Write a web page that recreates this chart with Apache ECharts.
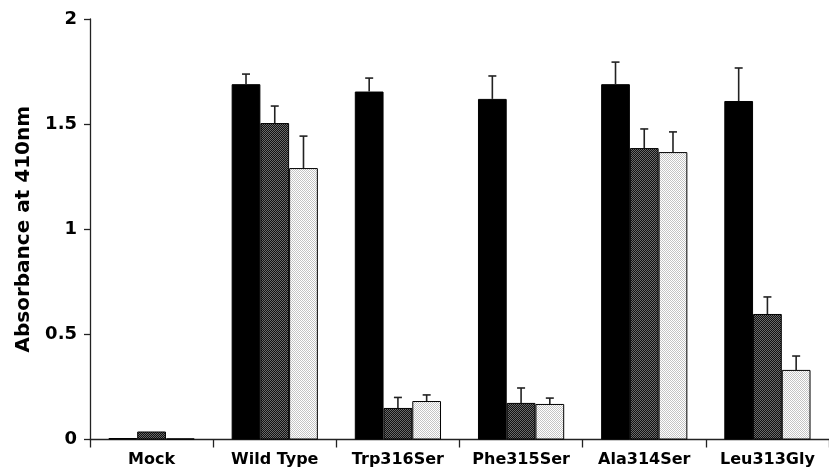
<!DOCTYPE html>
<html>
<head>
<meta charset="utf-8">
<script src="https://cdn.jsdelivr.net/npm/echarts@6/dist/echarts.min.js"></script>
<style>
html,body{margin:0;padding:0;background:#fff;}
#chart{width:829px;height:470px;}
</style>
</head>
<body>
<div id="chart"></div>
<script>
// ---- data ----
var categories = ['Mock', 'Wild Type', 'Trp316Ser', 'Phe315Ser', 'Ala314Ser', 'Leu313Gly'];
var seriesA = [0.007, 1.69, 1.655, 1.62, 1.69, 1.61];   // black
var seriesB = [0.038, 1.505, 0.15, 0.174, 1.386, 0.597]; // dark pattern
var seriesC = [0.005, 1.291, 0.183, 0.169, 1.367, 0.331]; // light pattern
var errA = [null, 1.738, 1.719, 1.729, 1.795, 1.767];   // error bar tops
var errB = [null, 1.586, 0.20, 0.245, 1.477, 0.678];
var errC = [null, 1.443, 0.212, 0.197, 1.463, 0.397];
var yTicks = [0, 0.5, 1, 1.5, 2];

// ---- patterns ----
function makePattern(c1, c2) {
  var cv = document.createElement('canvas');
  cv.width = 2; cv.height = 2;
  var ctx = cv.getContext('2d');
  ctx.fillStyle = c1; ctx.fillRect(0, 0, 2, 2);
  ctx.fillStyle = c2; ctx.fillRect(0, 0, 1, 1); ctx.fillRect(1, 1, 1, 1);
  return cv;
}
var darkPat = { image: makePattern('#111111', '#6a6a6a'), repeat: 'repeat' };
var lightPat = { image: makePattern('#ffffff', '#c4c4c4'), repeat: 'repeat' };

var FONT = 'DejaVu Sans';

function errData(tops, vals) {
  var out = [];
  for (var i = 0; i < tops.length; i++) {
    if (tops[i] != null) out.push([i, vals[i], tops[i]]);
  }
  return out;
}

function errSeries(tops, vals, offset) {
  return {
    type: 'custom',
    z: 5,
    silent: true,
    data: errData(tops, vals),
    renderItem: function (params, api) {
      var band = api.size([1, 0])[0];
      var bw = band * 0.7 / 3;
      var top = api.coord([api.value(0), api.value(2)]);
      var base = api.coord([api.value(0), api.value(1)]);
      var x = top[0] + offset * bw;
      var style = { stroke: '#222', lineWidth: 1.6 };
      return {
        type: 'group',
        children: [
          { type: 'line', shape: { x1: x, y1: base[1], x2: x, y2: top[1] }, style: style },
          { type: 'line', shape: { x1: x - 4, y1: top[1], x2: x + 4, y2: top[1] }, style: style }
        ]
      };
    }
  };
}

var barStyle = { borderColor: '#000', borderWidth: 1 };

var chart = echarts.init(document.getElementById('chart'), null, { renderer: 'canvas' });
chart.setOption({
  animation: false,
  backgroundColor: '#fff',
  grid: { left: 90, right: -10, top: 19, bottom: 30.5, containLabel: false },
  xAxis: {
    type: 'category',
    data: categories,
    axisLine: { lineStyle: { color: '#222', width: 1.3 } },
    axisTick: { show: true, interval: 0, length: 8, lineStyle: { color: '#222', width: 1.3 } },
    axisLabel: { interval: 0, color: '#000', fontFamily: FONT, fontWeight: 'bold', fontSize: 16, margin: 12 }
  },
  yAxis: {
    type: 'value',
    min: yTicks[0],
    max: yTicks[yTicks.length - 1],
    interval: 0.5,
    name: 'Absorbance at 410nm',
    nameLocation: 'middle',
    nameGap: 55,
    nameTextStyle: { color: '#000', fontFamily: FONT, fontWeight: 'bold', fontSize: 20 },
    axisLine: { show: true, lineStyle: { color: '#222', width: 1.3 } },
    axisTick: { show: true, length: 6, lineStyle: { color: '#222', width: 1.3 } },
    splitLine: { show: false },
    axisLabel: { color: '#000', fontFamily: FONT, fontWeight: 'bold', fontSize: 18, margin: 13 }
  },
  series: [
    { type: 'bar', data: seriesA, barGap: '0%', barCategoryGap: '30%', itemStyle: Object.assign({ color: '#000' }, barStyle) },
    { type: 'bar', data: seriesB, barGap: '0%', barCategoryGap: '30%', itemStyle: Object.assign({ color: darkPat }, barStyle) },
    { type: 'bar', data: seriesC, barGap: '0%', barCategoryGap: '30%', itemStyle: Object.assign({ color: lightPat }, barStyle) },
    errSeries(errA, seriesA, -1),
    errSeries(errB, seriesB, 0),
    errSeries(errC, seriesC, 1)
  ]
});
</script>
</body>
</html>
